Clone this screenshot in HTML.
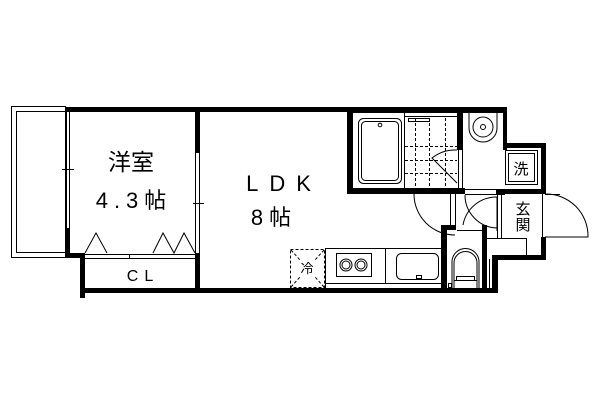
<!DOCTYPE html>
<html><head><meta charset="utf-8"><style>
html,body{margin:0;padding:0;background:#fff;}
svg{display:block;}
text{font-family:"Liberation Sans","Noto Sans CJK JP",sans-serif;fill:#000;}
</style></head><body>
<svg width="600" height="400" viewBox="0 0 600 400" xmlns="http://www.w3.org/2000/svg">
<g fill="none" stroke="#000" stroke-width="1">
<rect x="11.5" y="106.5" width="54" height="151"/>
<rect x="16.5" y="111.5" width="49" height="141"/>
<line x1="66.5" y1="112" x2="66.5" y2="228"/><line x1="69.5" y1="112" x2="69.5" y2="228"/>
<line x1="62" y1="169.5" x2="74" y2="169.5"/>
<line x1="195.5" y1="153" x2="195.5" y2="253"/><line x1="199.5" y1="153" x2="199.5" y2="253"/>
<line x1="193" y1="203.5" x2="204" y2="203.5"/>
<line x1="85" y1="254.5" x2="195" y2="254.5"/><line x1="85" y1="258.5" x2="195" y2="258.5"/>
<line x1="129.5" y1="254" x2="129.5" y2="259"/>
<polyline points="85,253 96,233 107,253"/>
<polyline points="153,253 163,233 174,253 184,233 195,253"/>
<rect x="290.5" y="249.5" width="34" height="38" stroke-dasharray="3,2"/>
<line x1="291" y1="250" x2="300" y2="260" stroke-dasharray="3,2"/>
<line x1="324" y1="250" x2="315" y2="260" stroke-dasharray="3,2"/>
<line x1="291" y1="287" x2="300" y2="277" stroke-dasharray="3,2"/>
<line x1="324" y1="287" x2="315" y2="277" stroke-dasharray="3,2"/>
<line x1="325" y1="248.5" x2="442" y2="248.5"/>
<line x1="325.5" y1="248" x2="325.5" y2="288"/>
<line x1="325" y1="283.5" x2="442" y2="283.5"/>
<line x1="385.5" y1="248" x2="385.5" y2="284"/>
<rect x="336.5" y="253.5" width="35" height="23"/>
<circle cx="346" cy="265" r="6"/><circle cx="346" cy="265" r="4"/>
<circle cx="361" cy="265" r="6"/><circle cx="361" cy="265" r="4"/>
<rect x="396.5" y="253.5" width="42" height="26" rx="5"/>
<rect x="416.5" y="275.5" width="5" height="3"/>
<rect x="358.5" y="118.5" width="43" height="65" rx="5"/>
<rect x="361.5" y="121.5" width="37" height="59" rx="4"/>
<circle cx="380" cy="125" r="1.8"/>
<line x1="404.5" y1="113" x2="404.5" y2="188"/>
<line x1="404" y1="116.5" x2="457" y2="116.5"/>
<rect x="408.5" y="118.5" width="21" height="3"/>
<g stroke-dasharray="3,2">
<line x1="415.5" y1="118" x2="415.5" y2="187"/>
<line x1="429.5" y1="118" x2="429.5" y2="187"/>
<line x1="445.5" y1="118" x2="445.5" y2="187"/>
<line x1="405" y1="146.5" x2="457" y2="146.5"/>
<line x1="405" y1="160.5" x2="457" y2="160.5"/>
<line x1="405" y1="173.5" x2="457" y2="173.5"/>
</g>
<path d="M457,150 A37,37 0 0 0 432,158 L457,183"/>
<line x1="458.5" y1="150" x2="458.5" y2="189"/><line x1="462.5" y1="150" x2="462.5" y2="189"/>
<path d="M469,113 L469,128 A13,13 0 0 0 497,128 L497,113"/>
<circle cx="483" cy="127" r="10"/><circle cx="483" cy="127" r="2.5"/>
<rect x="505.5" y="150.5" width="32" height="34"/>
<rect x="508.5" y="153.5" width="26" height="28"/>
<line x1="465" y1="189.5" x2="505" y2="189.5"/>
<line x1="465" y1="194.5" x2="505" y2="194.5"/>
<path d="M414,194 A41,41 0 0 0 455,235"/>
<line x1="450.5" y1="194" x2="450.5" y2="226"/><line x1="455.5" y1="194" x2="455.5" y2="226"/>
<path d="M463,225 A34,34 0 0 1 497,197 L497,231"/>
<path d="M465,195 A33,33 0 0 0 497,228"/>
<line x1="457" y1="230.5" x2="486" y2="230.5"/>
<line x1="497.5" y1="194" x2="497.5" y2="238"/><line x1="501.5" y1="194" x2="501.5" y2="238"/>
<line x1="487" y1="238.5" x2="526" y2="238.5"/>
<line x1="526.5" y1="238" x2="526.5" y2="255"/>
<line x1="545" y1="194.5" x2="560" y2="194.5"/>
<path d="M545,194 A42,42 0 0 1 588,237 L545,237"/>
<line x1="542.5" y1="194" x2="542.5" y2="237"/>
<!-- toilet -->
<path d="M452,288 L452,262 A13.5,13.5 0 0 1 479,262 L479,288"/>
<path d="M454,288 L454,263 A11.5,11.5 0 0 1 477,263 L477,288"/>
<rect x="456.5" y="276.5" width="18" height="4"/>
<line x1="454" y1="280.5" x2="477" y2="280.5"/>
<rect x="448.5" y="283.5" width="3" height="4"/>
<line x1="489.5" y1="259" x2="489.5" y2="288"/><line x1="492.5" y1="259" x2="492.5" y2="288"/>
</g>
<g fill="#000">
<rect x="65" y="107" width="282" height="5"/>
<rect x="65" y="228" width="5" height="30"/>
<rect x="65" y="253" width="20" height="5"/>
<rect x="80" y="253" width="5" height="45"/>
<rect x="80" y="288" width="418" height="5"/>
<rect x="195" y="107" width="5" height="46"/>
<rect x="195" y="253" width="5" height="40"/>
<rect x="347" y="107" width="6" height="87"/>
<rect x="347" y="107" width="160" height="6"/>
<rect x="347" y="188" width="118" height="6"/>
<rect x="457" y="113" width="6" height="37"/>
<rect x="503" y="107" width="4" height="43"/>
<rect x="503" y="143" width="43" height="5"/>
<rect x="541" y="143" width="5" height="51"/>
<rect x="496" y="189" width="50" height="5"/>
<rect x="541" y="237" width="5" height="23"/>
<rect x="492" y="255" width="54" height="5"/>
<rect x="493" y="255" width="5" height="38"/>
<rect x="441" y="225" width="6" height="68"/>
<rect x="441" y="225" width="15" height="5"/>
<rect x="482" y="225" width="5" height="68"/>
</g>
<text x="131" y="170" font-size="23" text-anchor="middle">洋室</text>
<text x="134" y="208" font-size="22" text-anchor="middle" letter-spacing="6">4.3帖</text>
<text x="143" y="281" font-size="16" text-anchor="middle" letter-spacing="6">CL</text>
<text x="284" y="191" font-size="22" text-anchor="middle" letter-spacing="11">LDK</text>
<text x="274" y="225" font-size="22" text-anchor="middle" letter-spacing="6">8帖</text>
<text x="307" y="273" font-size="13" text-anchor="middle">冷</text>
<text x="521" y="174" font-size="15" text-anchor="middle">洗</text>
<text x="523" y="214" font-size="15" text-anchor="middle">玄</text>
<text x="523" y="230" font-size="15" text-anchor="middle">関</text>
</svg>
</body></html>
